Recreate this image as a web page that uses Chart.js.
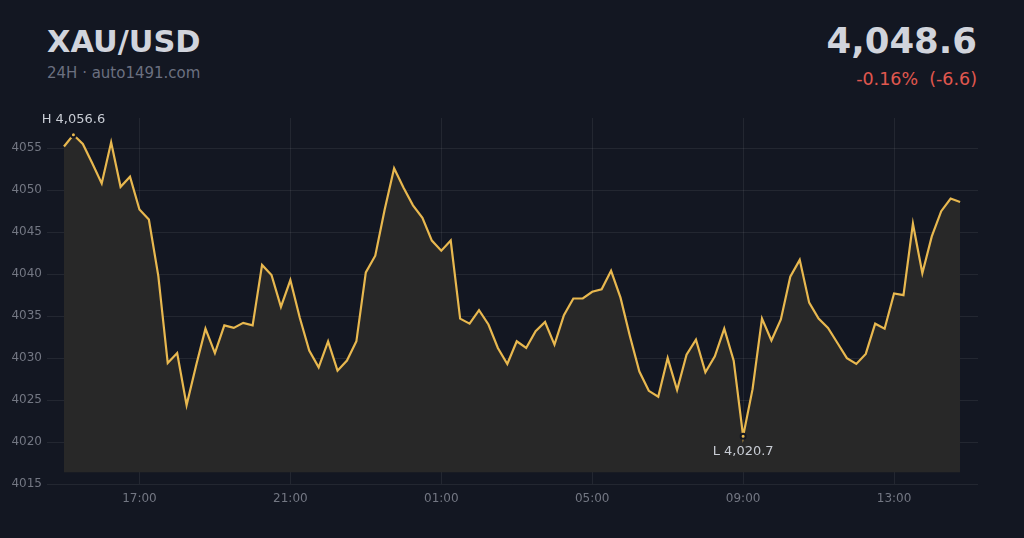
<!DOCTYPE html>
<html>
<head>
<meta charset="utf-8">
<script src="https://cdn.jsdelivr.net/npm/chart.js@4.4.1/dist/chart.umd.min.js"></script>
<style>
  body { margin: 0; background: #131722; width: 1024px; height: 538px; overflow: hidden; font-family: "DejaVu Sans", sans-serif; }
  .t { position: absolute; white-space: nowrap; line-height: 1; }
  #box { position: absolute; left: 0; top: 0; width: 1024px; height: 538px; }
</style>
</head>
<body>
<div class="t" id="sym" style="left:47px;top:27.2px;font-size:30.4px;font-weight:bold;color:#d1d4dc">XAU/USD</div>
<div class="t" id="sub" style="left:47px;top:66px;font-size:15px;color:#6b7080">24H · auto1491.com</div>
<div class="t" id="last" style="right:47px;top:23px;font-size:35.5px;font-weight:bold;color:#d1d4dc">4,048.6</div>
<div class="t" id="chg" style="right:47px;top:71px;font-size:17.5px;color:#e0574f">-0.16%&nbsp;&nbsp;(-6.6)</div>
<div id="box"><canvas id="myChart"></canvas></div>
<script>
// 15 min bars, 15:00 -> 14:45
const prices = [
  4055.2, 4056.6, 4055.5, 4053.2, 4050.8, 4055.7, 4050.4, 4051.6, 4047.7, 4046.5,
  4039.8, 4029.4, 4030.6, 4024.4, 4029.1, 4033.5, 4030.6, 4033.9, 4033.6, 4034.2,
  4033.9, 4041.1, 4039.9, 4036.1, 4039.3, 4034.8, 4030.9, 4028.9, 4032.0, 4028.5,
  4029.7, 4032.0, 4040.2, 4042.2, 4047.7, 4052.6, 4050.3, 4048.2, 4046.7, 4044.0,
  4042.8, 4044.0, 4034.7, 4034.1, 4035.7, 4034.0, 4031.2, 4029.3, 4032.0, 4031.2,
  4033.2, 4034.3, 4031.6, 4035.1, 4037.1, 4037.1, 4037.9, 4038.2, 4040.4, 4037.2,
  4032.6, 4028.4, 4026.1, 4025.4, 4030.0, 4026.2, 4030.4, 4032.2, 4028.3, 4030.2,
  4033.5, 4029.7, 4020.7, 4026.3, 4034.7, 4032.1, 4034.6, 4039.7, 4041.7, 4036.6,
  4034.7, 4033.6, 4031.8, 4030.0, 4029.3, 4030.5, 4034.1, 4033.5, 4037.7, 4037.5,
  4046.0, 4040.1, 4044.5, 4047.5, 4049.0, 4048.6
];
const tickIdx = [8, 24, 40, 56, 72, 88];
const tickLabels = ["17:00", "21:00", "01:00", "05:00", "09:00", "13:00"];
const yTicks = [4015, 4020, 4025, 4030, 4035, 4040, 4045, 4050, 4055];
const highIdx = 1, lowIdx = 72;

const gold = "#e8b84f";
const gridCol = "rgba(255,255,255,0.07)";

let points = prices.map((p, i) => ({ x: i, y: p }));
let radii = prices.map((p, i) => (i == highIdx || i == lowIdx) ? 2.5 : 0);

// H / L labels
const hiLoLabels = {
  id: "hiLo",
  afterDatasetsDraw(chart) {
    const ctx = chart.ctx;
    const xs = chart.scales.x, ys = chart.scales.y;
    ctx.save();
    ctx.font = "13px 'DejaVu Sans'";
    ctx.fillStyle = "#c8ccd4";
    ctx.textAlign = "center";
    ctx.textBaseline = "alphabetic";
    let hx = xs.getPixelForValue(highIdx), hy = ys.getPixelForValue(prices[highIdx]);
    ctx.fillText("H " + prices[highIdx].toLocaleString("en-US", { minimumFractionDigits: 1 }), hx, hy - 12);
    let lx = xs.getPixelForValue(lowIdx), ly = ys.getPixelForValue(prices[lowIdx]);
    ctx.fillText("L " + prices[lowIdx].toLocaleString("en-US", { minimumFractionDigits: 1 }), lx, ly + 19);
    ctx.restore();
  }
};

let chart = new Chart(document.getElementById("myChart").getContext("2d"), {
  type: "line",
  data: {
    datasets: [{
      data: points,
      borderColor: gold,
      borderWidth: 2.2,
      tension: 0,
      fill: { value: 4016.4 },
      backgroundColor: "#282828",
      pointRadius: radii,
      pointBackgroundColor: gold,
      pointBorderColor: "#131722",
      pointBorderWidth: 2,
      pointHoverRadius: 0
    }]
  },
  options: {
    responsive: true,
    maintainAspectRatio: false,
    animation: false,
    layout: { padding: { top: 118, right: 46, left: 0, bottom: 0 } },
    plugins: { legend: { display: false }, tooltip: { enabled: false } },
    scales: {
      x: {
        type: "linear",
        min: -1.8,
        max: 96.9,
        afterBuildTicks: (s) => { s.ticks = tickIdx.map(v => ({ value: v })); },
        afterFit: (s) => { s.height = 54; },
        ticks: {
          color: "#737783",
          font: { family: "DejaVu Sans", size: 12 },
          padding: 8,
          maxRotation: 0,
          autoSkip: false,
          callback: (v) => tickLabels[tickIdx.indexOf(v)]
        },
        grid: { color: gridCol, drawTicks: false },
        border: { display: false }
      },
      y: {
        min: 4015,
        max: 4058.6,
        afterBuildTicks: (s) => { s.ticks = yTicks.map(v => ({ value: v })); },
        afterFit: (s) => { s.width = 47; },
        ticks: {
          color: "#737783",
          font: { family: "DejaVu Sans", size: 12 },
          padding: 5,
          callback: (v) => String(v)
        },
        grid: { color: gridCol, drawTicks: false },
        border: { display: false }
      }
    }
  },
  plugins: [hiLoLabels]
});
</script>
</body>
</html>
